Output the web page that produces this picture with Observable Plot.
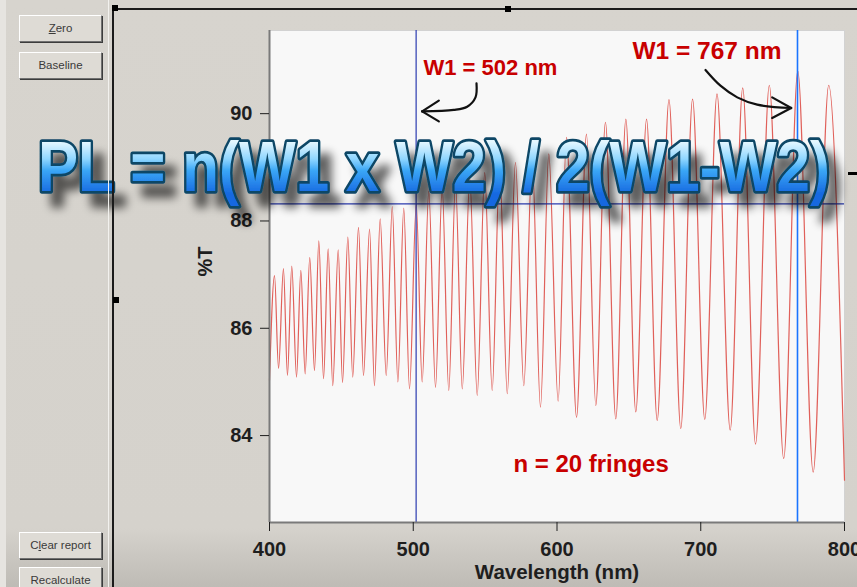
<!DOCTYPE html>
<html>
<head>
<meta charset="utf-8">
<script src="https://cdn.jsdelivr.net/npm/d3@7"></script>
<script src="https://cdn.jsdelivr.net/npm/@observablehq/plot@0.6"></script>
<style>
html,body{margin:0;padding:0;}
body{width:857px;height:587px;overflow:hidden;position:relative;
  background:linear-gradient(180deg,#d7d4ce 0%,#d5d2cc 90%,#bebbb5 100%);
  font-family:"Liberation Sans",Arial,sans-serif;}
#chart{position:absolute;left:0;top:0;width:857px;height:587px;}
#chart svg{display:block;}
.btn{position:absolute;left:19px;width:81px;height:25px;background:#dedbd5;
  border:1px solid;border-color:#ffffff #707070 #707070 #ffffff;
  box-shadow:1px 1px 0 #3c3c3c;font-size:11.5px;color:#3a3a3a;text-align:center;line-height:25px;}
.deco{position:absolute;}
</style>
</head>
<body>
<div id="chart"></div>
<script>
// ---- data (fringe extrema, alternating trough / peak) ----
const wavelength = [400.0, 403.5, 406.3, 409.7, 412.5, 415.5, 418.8, 421.8, 424.8, 428.0,
  431.3, 434.3, 437.6, 440.8, 444.0, 447.8, 450.8, 454.5, 457.9, 461.9,
  465.4, 469.6, 473.0, 477.0, 481.2, 485.4, 489.3, 493.4, 497.4, 502.1,
  506.2, 510.8, 515.5, 520.1, 524.7, 529.4, 534.1, 539.3, 544.5, 549.7,
  554.9, 560.1, 565.4, 571.1, 576.9, 582.7, 588.5, 594.3, 600.8, 606.6,
  613.6, 620.5, 627.0, 633.7, 640.9, 647.9, 654.8, 662.3, 669.7, 677.9,
  686.1, 694.3, 702.8, 711.3, 720.5, 729.2, 738.1, 747.7, 757.7, 767.5,
  778.2, 789.0, 800.0];
const transmittance = [85.03, 86.98, 85.25, 87.11, 85.12, 87.16, 85.09, 87.08, 85.15, 87.32,
  85.21, 87.63, 85.06, 87.48, 84.93, 87.46, 84.99, 87.70, 85.09, 87.88,
  85.12, 87.85, 84.93, 88.04, 85.12, 88.27, 85.00, 88.24, 84.87, 88.32,
  85.00, 88.55, 84.90, 88.62, 84.84, 88.70, 84.87, 88.80, 84.75, 88.90,
  84.84, 89.00, 84.78, 89.09, 84.93, 89.17, 84.53, 89.25, 84.64, 89.56,
  84.34, 89.62, 84.56, 89.84, 84.31, 89.90, 84.44, 89.90, 84.28, 90.26,
  84.13, 90.27, 84.30, 90.37, 84.10, 90.48, 83.84, 90.53, 83.57, 90.80,
  83.32, 90.53, 83.17];

const xDomain = [400, 800];
const yDomain = [82.38, 91.55];
const xTicks = [400, 500, 600, 700, 800];
const yTicks = [84, 86, 88, 90];

// cursors
const cursorWl = [502, 767.3];
const cursorT = [88.32];

// annotations (data coordinates)
const formula = "PL = n(W1 x W2) / 2(W1-W2)";
const formulaPos = [514.4, 88.98];
const label502 = "W1 = 502 nm";
const label502Pos = [553.7, 90.85];
const label767 = "W1 = 767 nm";
const label767Pos = [704.3, 91.16];
const fringesLabel = "n = 20 fringes";
const fringesPos = [623.7, 83.47];

const arrow1Wl = [544.0, 543.3, 537.5, 528.2, 506.2];
const arrow1T = [90.564, 90.304, 90.130, 90.069, 90.043];
const arrow1HeadWl = [517.8, 517.8];
const arrow1HeadT = [90.242, 89.857];
const arrow2Wl = [703.3, 713.7, 725.4, 739.3, 762.9];
const arrow2T = [90.814, 90.521, 90.304, 90.168, 90.106];
const arrow2HeadWl = [749.7, 749.7];
const arrow2HeadT = [90.304, 89.920];

// ---- build tables ----
const spectrum = wavelength.map((w, i) => ({w, t: transmittance[i]}));
const arrow1 = arrow1Wl.map((w, i) => ({w, t: arrow1T[i]}));
const arrow2 = arrow2Wl.map((w, i) => ({w, t: arrow2T[i]}));
const heads = [
  ...arrow1HeadWl.map((w, i) => ({x1: arrow1Wl[4], y1: arrow1T[4], x2: w, y2: arrow1HeadT[i]})),
  ...arrow2HeadWl.map((w, i) => ({x1: arrow2Wl[4], y1: arrow2T[4], x2: w, y2: arrow2HeadT[i]}))
];
const red = "#c80000";
const font = "'Liberation Sans', Arial, sans-serif";

const svg = Plot.plot({
  width: 857,
  height: 587,
  marginLeft: 269,
  marginRight: 13,
  marginTop: 30,
  marginBottom: 65,
  x: {domain: xDomain},
  y: {domain: yDomain},
  style: {background: "transparent", fontFamily: font, overflow: "visible"},
  marks: [
    Plot.frame({fill: "#f8f8f8", stroke: "#d2d2d2"}),
    Plot.line(spectrum, {x: "w", y: "t", curve: "monotone-x", stroke: "#e0605a", strokeWidth: 1.2}),
    Plot.ruleX([cursorWl[0]], {stroke: "#2b3bb0", strokeWidth: 1.2}),
    Plot.ruleX([cursorWl[1]], {stroke: "#1a74ff", strokeWidth: 1.6}),
    Plot.ruleY(cursorT, {stroke: "#2b3bb0", strokeWidth: 1.2}),
    Plot.ruleX([xDomain[0]], {stroke: "#7a7a7a", strokeWidth: 2}),
    Plot.ruleY([yDomain[0]], {stroke: "#7a7a7a", strokeWidth: 2}),
    Plot.axisY({ticks: yTicks, tickSize: 9, tickPadding: 8, fontSize: 20, fontWeight: "bold", color: "#1e1e1e", label: null}),
    Plot.axisX({ticks: xTicks, tickSize: 9, tickPadding: 10, fontSize: 20, fontWeight: "bold", color: "#1e1e1e", label: null}),
    Plot.text(["Wavelength (nm)"], {frameAnchor: "bottom", dy: 56, fontSize: 20.5, fontWeight: "bold", fill: "#1e1e1e"}),
    Plot.text(["%T"], {frameAnchor: "left", dx: -64, rotate: -90, fontSize: 20, fontWeight: "bold", fill: "#1e1e1e"}),
    Plot.text([label502], {x: label502Pos[0], y: label502Pos[1], fontSize: 22, fontWeight: "bold", fill: red}),
    Plot.text([label767], {x: label767Pos[0], y: label767Pos[1], fontSize: 24.5, fontWeight: "bold", fill: red}),
    Plot.text([fringesLabel], {x: fringesPos[0], y: fringesPos[1], fontSize: 24, fontWeight: "bold", fill: red}),
    Plot.line(arrow1, {x: "w", y: "t", curve: "catmull-rom", stroke: "#111", strokeWidth: 2.2}),
    Plot.line(arrow2, {x: "w", y: "t", curve: "catmull-rom", stroke: "#111", strokeWidth: 2.2}),
    Plot.link(heads, {x1: "x1", y1: "y1", x2: "x2", y2: "y2", stroke: "#111", strokeWidth: 2.2, strokeLinecap: "round"}),
    Plot.text([formula], {x: formulaPos[0], y: formulaPos[1], fontSize: 70, fontWeight: "bold", fill: "#2a8ff0"})
  ]
});

// gradient + outline + shadow for the overlaid formula
const ns = "http://www.w3.org/2000/svg";
const defs = document.createElementNS(ns, "defs");
defs.innerHTML = `
<linearGradient id="fgrad" x1="0" y1="0" x2="0" y2="1">
  <stop offset="0.18" stop-color="#e4f7ff"/>
  <stop offset="0.40" stop-color="#8fd6ff"/>
  <stop offset="0.55" stop-color="#3aa6f6"/>
  <stop offset="0.85" stop-color="#1668e0"/>
</linearGradient>
<filter id="fshadow" x="-5%" y="-40%" width="115%" height="220%">
  <feGaussianBlur in="SourceAlpha" stdDeviation="5" result="b"/>
  <feOffset in="b" dx="11" dy="14" result="o"/>
  <feComponentTransfer in="o" result="s"><feFuncA type="linear" slope="0.62"/></feComponentTransfer>
  <feMerge><feMergeNode in="s"/><feMergeNode in="SourceGraphic"/></feMerge>
</filter>`;
svg.insertBefore(defs, svg.firstChild);
for (const t of svg.querySelectorAll("text")) {
  if (t.textContent === formula) {
    t.setAttribute("fill", "url(#fgrad)");
    t.setAttribute("stroke", "#0b4666");
    t.setAttribute("stroke-width", "5.5");
    t.setAttribute("stroke-linejoin", "round");
    t.setAttribute("paint-order", "stroke");
    t.setAttribute("textLength", "792");
    t.setAttribute("lengthAdjust", "spacingAndGlyphs");
    t.setAttribute("filter", "url(#fshadow)");
  }
}
document.getElementById("chart").appendChild(svg);

// ---- window furniture around the chart ----
function deco(style) {
  const d = document.createElement("div");
  d.className = "deco";
  Object.assign(d.style, style);
  document.body.appendChild(d);
  return d;
}
deco({left: "0px", top: "0px", width: "6px", height: "587px", background: "#e6e4e0"});
deco({left: "108px", top: "0px", width: "1px", height: "587px", background: "#f2f1ee"});
deco({left: "112px", top: "8px", width: "2px", height: "579px", background: "#1b1b1b"});
deco({left: "112px", top: "8px", width: "745px", height: "2px", background: "#1b1b1b"});
deco({left: "112px", top: "5px", width: "6px", height: "6px", background: "#000"});
deco({left: "113px", top: "297px", width: "6px", height: "6px", background: "#000"});
deco({left: "505px", top: "6px", width: "6px", height: "6px", background: "#000"});
deco({left: "848px", top: "172px", width: "9px", height: "3px", background: "#000"});

function button(html, top) {
  const b = document.createElement("div");
  b.className = "btn";
  b.style.top = top + "px";
  b.innerHTML = html;
  document.body.appendChild(b);
}
button("<u>Z</u>ero", 15);
button("Baseline", 52);
button("C<u>l</u>ear report", 532);
button("Recalculate", 567);
</script>
</body>
</html>
